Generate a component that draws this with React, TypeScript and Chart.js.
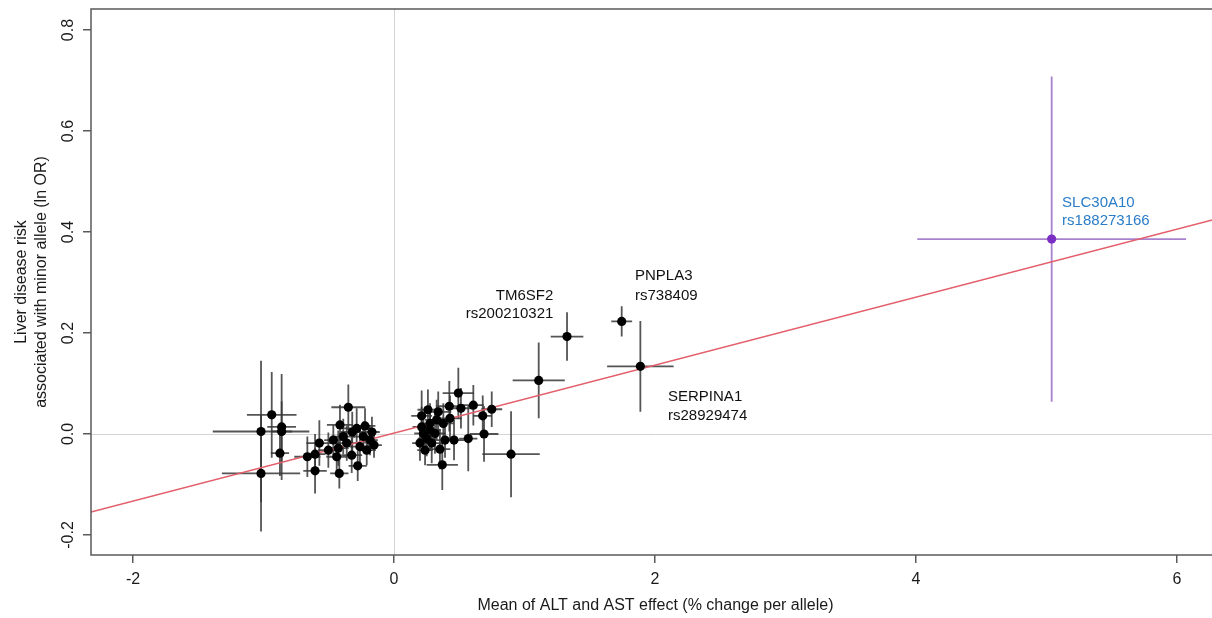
import React, { useEffect, useRef } from "react";
import { Chart, registerables } from "chart.js";

Chart.register(...registerables);

// Axis ticks
const xTicks = [-2, 0, 2, 4, 6];
const xTickLabels = ["-2", "0", "2", "4", "6"];
const yTicks = [-0.2, 0.0, 0.2, 0.4, 0.6, 0.8];
const yTickLabels = ["-0.2", "0.0", "0.2", "0.4", "0.6", "0.8"];

// Per-variant effect on liver enzymes (x) and liver disease risk (y), with CI half-widths
const variantX = [
  -1.019, -1.019, -0.937, -0.861, -0.861, -0.874, -0.664, -0.605, -0.605, -0.572,
  -0.503, -0.35, -0.414, -0.439, -0.419, -0.278, -0.286, -0.465, -0.362, -0.324,
  -0.235, -0.209, -0.184, -0.261, -0.389, -0.427, -0.32, -0.153, -0.169, -0.222,
  1.326, 1.745, 1.888, 1.109, 0.897, 0.749, 0.68, 0.69, 0.608, 0.569,
  0.493, 0.513, 0.424, 0.46, 0.37, 0.352, 0.339, 0.212, 0.212, 0.199,
  0.276, 0.327, 0.378, 0.391, 0.251, 0.289, 0.429, 0.314, 0.225, 0.276,
  0.238, 0.26,
];
const variantY = [
  0.005, -0.078, 0.038, 0.014, 0.005, -0.038, -0.045, -0.073, -0.04, -0.018,
  -0.032, 0.053, 0.018, -0.045, -0.078, -0.063, 0.011, -0.012, -0.018, -0.042,
  -0.005, -0.032, -0.012, -0.025, -0.005, -0.028, 0.004, -0.022, 0.004, 0.016,
  0.193, 0.223, 0.134, 0.106, -0.04, 0.049, 0.036, 0.0, 0.057, -0.009,
  0.081, 0.051, 0.055, -0.012, -0.061, -0.03, 0.044, 0.036, 0.014, -0.018,
  0.008, 0.028, 0.021, -0.012, -0.009, -0.018, 0.031, 0.001, 0.001, 0.021,
  -0.032, 0.048,
];
const variantXErr = [
  0.37, 0.3, 0.19, 0.11, 0.08, 0.07, 0.1, 0.09, 0.08, 0.1,
  0.08, 0.13, 0.1, 0.08, 0.07, 0.07, 0.1, 0.07, 0.09, 0.08,
  0.08, 0.07, 0.06, 0.08, 0.09, 0.08, 0.09, 0.06, 0.06, 0.08,
  0.125, 0.08, 0.255, 0.2, 0.22, 0.08, 0.07, 0.11, 0.08, 0.07,
  0.12, 0.09, 0.1, 0.08, 0.12, 0.08, 0.1, 0.08, 0.07, 0.06,
  0.08, 0.09, 0.08, 0.07, 0.07, 0.08, 0.09, 0.08, 0.07, 0.07,
  0.06, 0.08,
];
const variantYErr = [
  0.14, 0.115, 0.085, 0.105, 0.06, 0.045, 0.04, 0.045, 0.04, 0.045,
  0.035, 0.045, 0.04, 0.04, 0.03, 0.03, 0.04, 0.03, 0.035, 0.035,
  0.03, 0.03, 0.03, 0.035, 0.035, 0.035, 0.04, 0.025, 0.03, 0.035,
  0.048, 0.03, 0.09, 0.075, 0.085, 0.035, 0.04, 0.055, 0.04, 0.065,
  0.05, 0.04, 0.05, 0.04, 0.05, 0.04, 0.04, 0.05, 0.04, 0.035,
  0.04, 0.04, 0.04, 0.035, 0.035, 0.04, 0.045, 0.04, 0.035, 0.04,
  0.03, 0.04,
];

// SLC30A10 rs188273166
const slcX = [5.04];
const slcY = [0.386];
const slcXErr = [1.03];
const slcYErr = [0.322];

// Weighted regression line through the variants
const fitIntercept = 0.002;
const fitSlope = 0.0673;

const X_MIN = -2.322;
const X_MAX = 6.33;
const Y_MIN = -0.2396;
const Y_MAX = 0.8416;

const FONT = "'Liberation Sans', Arial, Helvetica, sans-serif";
const AXIS_GREY = "#5a5a5a";
const TEXT = "#1a1a1a";

type Note = { text: string; x: number; y: number; color: string };
const notes: Note[] = [
  { text: "TM6SF2", x: 0.78, y: 0.273, color: "#111" },
  { text: "rs200210321", x: 0.55, y: 0.238, color: "#111" },
  { text: "PNPLA3", x: 1.847, y: 0.313, color: "#111" },
  { text: "rs738409", x: 1.847, y: 0.274, color: "#111" },
  { text: "SERPINA1", x: 2.1, y: 0.074, color: "#111" },
  { text: "rs28929474", x: 2.1, y: 0.035, color: "#111" },
  { text: "SLC30A10", x: 5.12, y: 0.458, color: "#2a7cc8" },
  { text: "rs188273166", x: 5.12, y: 0.422, color: "#2a7cc8" },
];

const plotPlugin = {
  id: "plotDecor",
  beforeDatasetsDraw(chart: any) {
    const { ctx, chartArea, scales } = chart;
    const xs = scales.x;
    const ys = scales.y;
    ctx.save();
    ctx.beginPath();
    ctx.rect(chartArea.left, chartArea.top, chartArea.right - chartArea.left, chartArea.bottom - chartArea.top);
    ctx.clip();

    // zero reference lines
    ctx.strokeStyle = "#d4d4d4";
    ctx.lineWidth = 1;
    const x0 = Math.round(xs.getPixelForValue(0)) + 0.5;
    const y0 = Math.round(ys.getPixelForValue(0)) + 0.5;
    ctx.beginPath();
    ctx.moveTo(x0, chartArea.top);
    ctx.lineTo(x0, chartArea.bottom);
    ctx.moveTo(chartArea.left, y0);
    ctx.lineTo(chartArea.right, y0);
    ctx.stroke();

    // confidence-interval whiskers
    chart.data.datasets.forEach((ds: any) => {
      if (!ds.errX) return;
      ctx.strokeStyle = ds.errColor;
      ctx.lineWidth = 1.8;
      ds.data.forEach((p: any, j: number) => {
        const px = xs.getPixelForValue(p.x);
        const py = ys.getPixelForValue(p.y);
        ctx.beginPath();
        ctx.moveTo(xs.getPixelForValue(p.x - ds.errX[j]), py);
        ctx.lineTo(xs.getPixelForValue(p.x + ds.errX[j]), py);
        ctx.moveTo(px, ys.getPixelForValue(p.y - ds.errY[j]));
        ctx.lineTo(px, ys.getPixelForValue(p.y + ds.errY[j]));
        ctx.stroke();
      });
    });
    ctx.restore();
  },
  afterDraw(chart: any) {
    const { ctx, chartArea, scales } = chart;
    const xs = scales.x;
    const ys = scales.y;
    ctx.save();

    // plot frame
    ctx.strokeStyle = AXIS_GREY;
    ctx.lineWidth = 1.5;
    ctx.strokeRect(chartArea.left, chartArea.top, chartArea.right - chartArea.left, chartArea.bottom - chartArea.top);

    // rotated y tick labels
    ctx.fillStyle = TEXT;
    ctx.font = `16px ${FONT}`;
    ctx.textAlign = "center";
    ctx.textBaseline = "middle";
    yTicks.forEach((v, i) => {
      const py = ys.getPixelForValue(v);
      ctx.save();
      ctx.translate(chartArea.left - 22, py);
      ctx.rotate(-Math.PI / 2);
      ctx.fillText(yTickLabels[i], 0, 0);
      ctx.restore();
    });

    // variant labels
    ctx.font = `15px ${FONT}`;
    ctx.textAlign = "left";
    notes.forEach((n) => {
      ctx.fillStyle = n.color;
      ctx.fillText(n.text, xs.getPixelForValue(n.x), ys.getPixelForValue(n.y));
    });
    ctx.restore();
  },
};

export default function App() {
  const canvasRef = useRef<HTMLCanvasElement | null>(null);

  useEffect(() => {
    const canvas = canvasRef.current;
    if (!canvas) return;

    const variantPoints = variantX.map((x, i) => ({ x, y: variantY[i] }));
    const slcPoints = slcX.map((x, i) => ({ x, y: slcY[i] }));
    const fitPoints = [X_MIN, X_MAX].map((x) => ({ x, y: fitIntercept + fitSlope * x }));

    const chart = new Chart(canvas, {
      type: "scatter",
      data: {
        datasets: [
          {
            label: "Regression",
            type: "line",
            data: fitPoints,
            showLine: true,
            borderColor: "#e25f6b",
            borderWidth: 1.5,
            pointRadius: 0,
            order: 3,
          } as any,
          {
            label: "Variants",
            data: variantPoints,
            pointRadius: 4.6,
            pointHoverRadius: 4.6,
            backgroundColor: "#000",
            borderColor: "#000",
            borderWidth: 0,
            errX: variantXErr,
            errY: variantYErr,
            errColor: "rgba(55,55,55,0.85)",
            order: 1,
          } as any,
          {
            label: "SLC30A10",
            data: slcPoints,
            pointRadius: 4.6,
            pointHoverRadius: 4.6,
            backgroundColor: "#7a2ec4",
            borderColor: "#7a2ec4",
            borderWidth: 0,
            errX: slcXErr,
            errY: slcYErr,
            errColor: "#a882cf",
            order: 1,
          } as any,
        ],
      },
      options: {
        responsive: false,
        maintainAspectRatio: false,
        devicePixelRatio: 1,
        animation: false,
        layout: { padding: { left: 0, top: 9, right: 10, bottom: 0 } },
        plugins: {
          legend: { display: false },
          tooltip: { enabled: false },
        },
        scales: {
          x: {
            type: "linear",
            min: X_MIN,
            max: X_MAX,
            afterBuildTicks: (scale: any) => {
              scale.ticks = xTicks.map((value) => ({ value }));
            },
            afterFit: (scale: any) => {
              scale.height = 63;
            },
            border: { display: false },
            grid: {
              drawOnChartArea: false,
              drawTicks: true,
              tickLength: 8,
              color: AXIS_GREY,
              lineWidth: 1.5,
            },
            ticks: {
              autoSkip: false,
              maxRotation: 0,
              minRotation: 0,
              padding: 7,
              color: TEXT,
              font: { family: FONT, size: 16 },
              callback: (v: any) => {
                const i = xTicks.indexOf(Number(v));
                return i >= 0 ? xTickLabels[i] : "";
              },
            },
            title: {
              display: true,
              text: "Mean of ALT and AST effect (% change per allele)",
              color: TEXT,
              font: { family: FONT, size: 16 },
              padding: { top: 0, bottom: 2.4 },
            },
          },
          y: {
            type: "linear",
            min: Y_MIN,
            max: Y_MAX,
            afterBuildTicks: (scale: any) => {
              scale.ticks = yTicks.map((value) => ({ value }));
            },
            afterFit: (scale: any) => {
              scale.width = 91;
            },
            border: { display: false },
            grid: {
              drawOnChartArea: false,
              drawTicks: true,
              tickLength: 8,
              color: AXIS_GREY,
              lineWidth: 1.5,
            },
            ticks: { display: false },
            title: {
              display: true,
              text: ["Liver disease risk", "associated with minor allele (ln OR)"],
              color: TEXT,
              font: { family: FONT, size: 16 },
              padding: { top: 12.4, bottom: 0 },
            },
          },
        },
      } as any,
      plugins: [plotPlugin],
    });

    return () => chart.destroy();
  }, []);

  return (
    <div
      style={{
        position: "fixed",
        left: 0,
        top: 0,
        width: 1212,
        height: 618,
        overflow: "hidden",
        background: "#fff",
      }}
    >
      <canvas
        ref={canvasRef}
        width={1230}
        height={618}
        style={{ display: "block", width: 1230, height: 618 }}
      />
    </div>
  );
}
